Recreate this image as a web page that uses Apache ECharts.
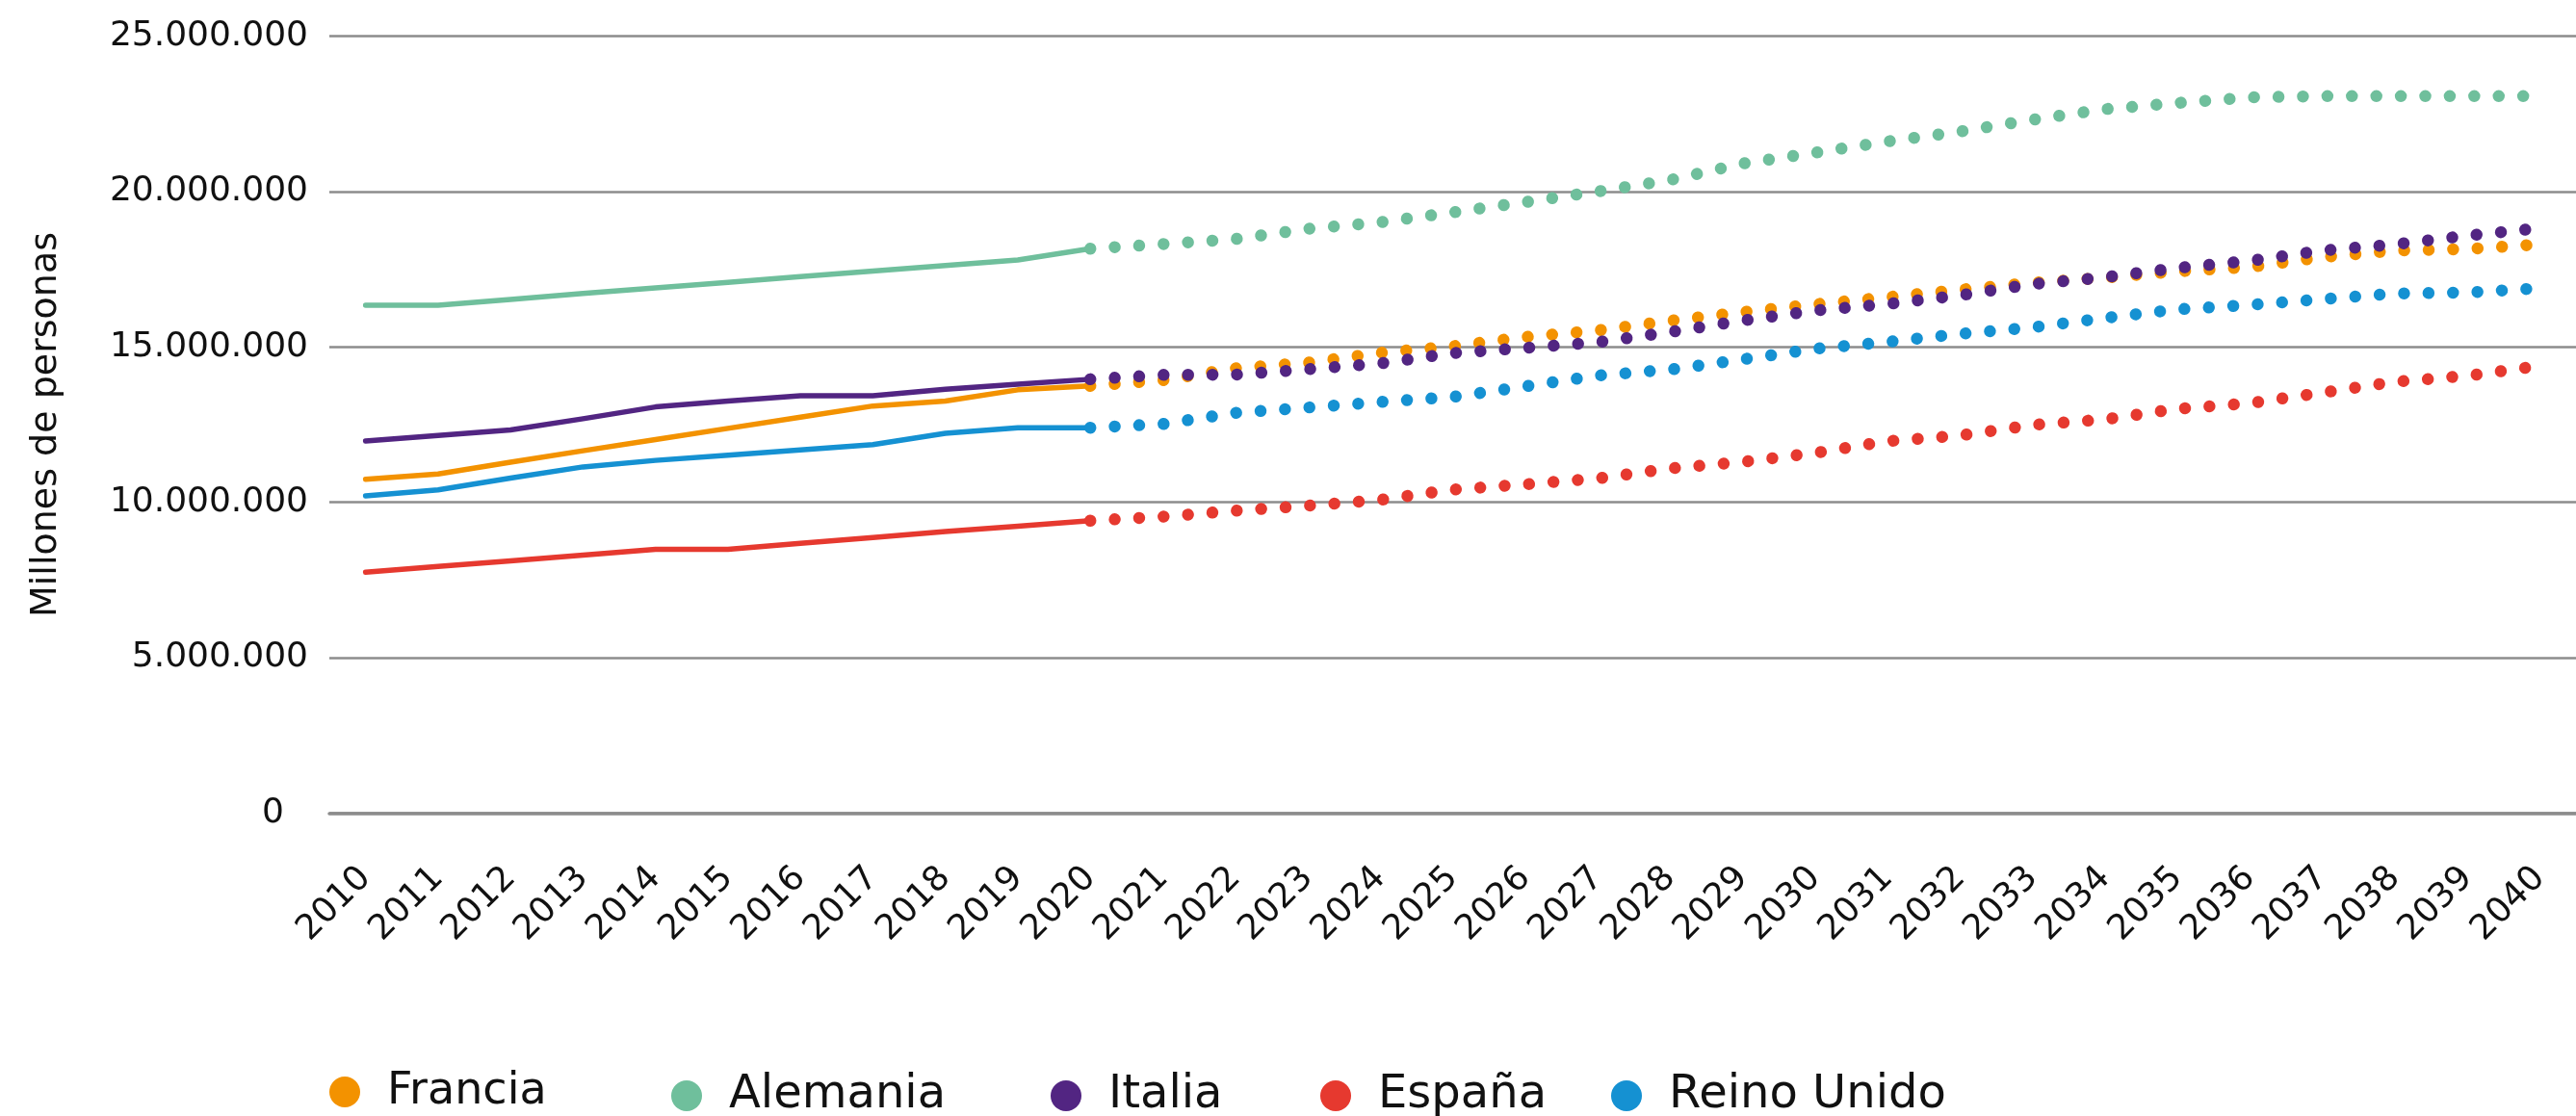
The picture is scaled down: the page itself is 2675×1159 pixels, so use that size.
<!DOCTYPE html>
<html>
<head>
<meta charset="utf-8">
<script src="https://cdn.jsdelivr.net/npm/echarts@6/dist/echarts.min.js"></script>
<style>
  html, body { margin: 0; padding: 0; background: #fff; }
  #chart { width: 2675px; height: 1159px; }
</style>
</head>
<body>
<div id="chart"></div>
<script>
// years on the x axis
const years = ['2010', '2011', '2012', '2013', '2014', '2015', '2016', '2017', '2018', '2019', '2020',
  '2021', '2022', '2023', '2024', '2025', '2026', '2027', '2028', '2029', '2030',
  '2031', '2032', '2033', '2034', '2035', '2036', '2037', '2038', '2039', '2040']

// values in millions of people, 2010-2020 (observed)
const franciaHist = [10.74, 10.91, 11.29, 11.66, 12.02, 12.38, 12.74, 13.10, 13.26, 13.62, 13.75]
const alemaniaHist = [16.34, 16.34, 16.53, 16.72, 16.90, 17.08, 17.26, 17.44, 17.62, 17.80, 18.16]
const italiaHist = [11.97, 12.15, 12.33, 12.69, 13.07, 13.26, 13.43, 13.43, 13.64, 13.80, 13.96]
const espanaHist = [7.75, 7.94, 8.12, 8.30, 8.49, 8.49, 8.68, 8.87, 9.06, 9.23, 9.41]
const reinoHist = [10.21, 10.40, 10.78, 11.14, 11.35, 11.52, 11.69, 11.86, 12.22, 12.40, 12.40]

// values in millions of people, 2020-2040 (projection)
const franciaProj = [13.75, 13.93, 14.31, 14.49, 14.81, 15.02, 15.32, 15.53, 15.84, 16.12, 16.37,
  16.60, 16.84, 17.06, 17.23, 17.43, 17.57, 17.89, 18.10, 18.15, 18.30]
const alemaniaProj = [18.16, 18.31, 18.47, 18.80, 19.01, 19.33, 19.66, 20.00, 20.37, 20.90, 21.25,
  21.61, 21.93, 22.31, 22.65, 22.85, 23.03, 23.07, 23.07, 23.07, 23.07]
const italiaProj = [13.96, 14.10, 14.11, 14.28, 14.47, 14.80, 14.97, 15.15, 15.48, 15.85, 16.17,
  16.38, 16.66, 17.02, 17.24, 17.54, 17.77, 18.10, 18.30, 18.58, 18.82]
const espanaProj = [9.41, 9.54, 9.73, 9.89, 10.08, 10.41, 10.58, 10.77, 11.09, 11.30, 11.59,
  11.97, 12.15, 12.49, 12.67, 13.01, 13.19, 13.53, 13.88, 14.07, 14.39]
const reinoProj = [12.40, 12.52, 12.88, 13.05, 13.23, 13.39, 13.73, 14.08, 14.27, 14.60, 14.94,
  15.16, 15.42, 15.63, 15.93, 16.21, 16.35, 16.54, 16.72, 16.75, 16.89]

const countries = [
  { name: 'Francia', color: '#F39200', hist: franciaHist, proj: franciaProj, left: 337 },
  { name: 'Alemania', color: '#6FBF9C', hist: alemaniaHist, proj: alemaniaProj, left: 692 },
  { name: 'Italia', color: '#522582', hist: italiaHist, proj: italiaProj, left: 1086 },
  { name: 'España', color: '#E6392F', hist: espanaHist, proj: espanaProj, left: 1366 },
  { name: 'Reino Unido', color: '#1591D2', hist: reinoHist, proj: reinoProj, left: 1668 },
]

const FONT = 'DejaVu Sans'

function fmtMiles(v) {
  return Math.round(v * 1000000).toString().replace(/\B(?=(\d{3})+(?!\d))/g, '.')
}

const series = []
countries.forEach(c => {
  const pad = years.length - c.hist.length
  series.push({
    name: c.name,
    type: 'line',
    data: c.hist.concat(new Array(pad).fill(null)),
    showSymbol: false,
    color: c.color,
    lineStyle: { color: c.color, width: 5.5, cap: 'round', join: 'round' },
  })
  series.push({
    name: c.name,
    type: 'line',
    data: new Array(years.length - c.proj.length).fill(null).concat(c.proj),
    showSymbol: false,
    color: c.color,
    lineStyle: { color: c.color, width: 12.5, type: [0.01, 25.4], cap: 'round', join: 'round' },
  })
})

const legends = countries.map(c => ({
  data: [{ name: c.name, icon: 'circle' }],
  left: c.left,
  top: c.name === 'Francia' ? 1106 : 1109,
  itemWidth: 32,
  itemHeight: 32,
  selectedMode: false,
  textStyle: {
    fontFamily: FONT,
    fontSize: c.name === 'Francia' ? 46 : 48,
    color: '#111',
    padding: [0, 0, 0, 23],
  },
}))

const chart = echarts.init(document.getElementById('chart'))
chart.setOption({
  animation: false,
  backgroundColor: '#ffffff',
  grid: { left: 342, right: -30, top: 37.5, bottom: 314.5, containLabel: false },
  legend: legends,
  xAxis: {
    type: 'category',
    data: years,
    boundaryGap: true,
    axisLine: { show: true, lineStyle: { color: '#8c8c8c', width: 3.5 } },
    axisTick: { show: false },
    axisLabel: {
      rotate: 45,
      interval: 0,
      margin: 62,
      fontFamily: FONT,
      fontSize: 36,
      color: '#111',
    },
  },
  yAxis: {
    type: 'value',
    min: 0,
    max: 25,
    interval: 5,
    name: 'Millones de personas',
    nameLocation: 'middle',
    nameRotate: 90,
    nameGap: 275,
    nameTextStyle: { fontFamily: FONT, fontSize: 38, color: '#111' },
    axisLine: { show: false },
    axisTick: { show: false },
    splitLine: { lineStyle: { color: '#8c8c8c', width: 2.5 } },
    axisLabel: {
      margin: 22,
      fontFamily: FONT,
      fontSize: 36,
      color: '#111',
      formatter: v => (v === 0 ? '{z|0}' : fmtMiles(v)),
      rich: { z: { fontFamily: FONT, fontSize: 36, color: '#111', padding: [0, 25, 0, 0] } },
    },
  },
  series: series,
})
</script>
</body>
</html>
